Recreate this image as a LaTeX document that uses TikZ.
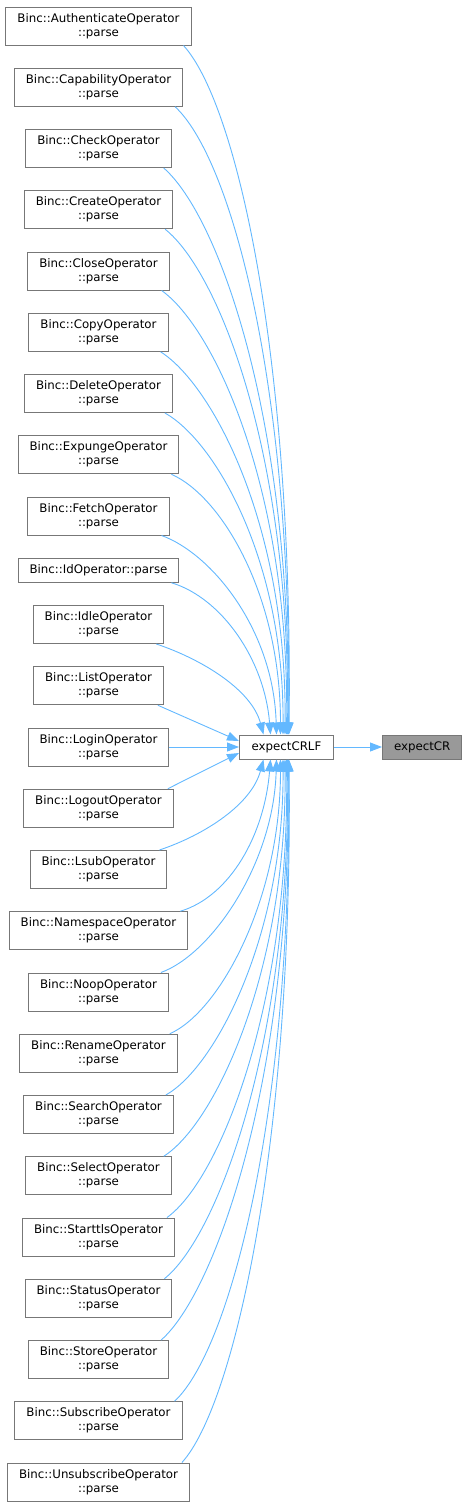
\documentclass[tikz,border=0pt]{standalone}
\usepackage{fontspec}
\setmainfont{DejaVu Sans}
\usetikzlibrary{arrows.meta, positioning, calc}
\definecolor{edgeblue}{HTML}{63B8FF}
\definecolor{boxgray}{HTML}{777777}
\definecolor{hlgray}{HTML}{999999}

\begin{document}
\begin{tikzpicture}[x=1pt, y=-1pt,
        fn/.style={rectangle, draw=boxgray, line width=1pt, fill=white,
                   align=center, inner xsep=11.5pt, inner ysep=6pt,
                   text height=23pt, text depth=3pt,
                   font=\fontsize{11.8}{14}\selectfont},
        fn1/.style={fn, text height=9pt},
        hl/.style={fn1, fill=hlgray},
        edge/.style={-{Triangle[length=12pt,width=9pt]}, edgeblue, line width=0.9pt},
        node distance=22.25pt]
      \useasboundingbox (0,0) rectangle (465,1507);
      % callers, one column
      \node[fn] (auth) at (98.5,26) {Binc::AuthenticateOperator\\::parse};
      \node[fn, below=of auth] (capab) {Binc::CapabilityOperator\\::parse};
      \node[fn, below=of capab] (check) {Binc::CheckOperator\\::parse};
      \node[fn, below=of check] (create) {Binc::CreateOperator\\::parse};
      \node[fn, below=of create] (close) {Binc::CloseOperator\\::parse};
      \node[fn, below=of close] (copy) {Binc::CopyOperator\\::parse};
      \node[fn, below=of copy] (delete) {Binc::DeleteOperator\\::parse};
      \node[fn, below=of delete] (expunge) {Binc::ExpungeOperator\\::parse};
      \node[fn, below=of expunge] (fetch) {Binc::FetchOperator\\::parse};
      \node[fn1, below=of fetch] (idop) {Binc::IdOperator::parse};
      \node[fn, below=of idop] (idle) {Binc::IdleOperator\\::parse};
      \node[fn, below=of idle] (list) {Binc::ListOperator\\::parse};
      \node[fn, below=of list] (login) {Binc::LoginOperator\\::parse};
      \node[fn, below=of login] (logout) {Binc::LogoutOperator\\::parse};
      \node[fn, below=of logout] (lsub) {Binc::LsubOperator\\::parse};
      \node[fn, below=of lsub] (namespace) {Binc::NamespaceOperator\\::parse};
      \node[fn, below=of namespace] (noop) {Binc::NoopOperator\\::parse};
      \node[fn, below=of noop] (rename) {Binc::RenameOperator\\::parse};
      \node[fn, below=of rename] (search) {Binc::SearchOperator\\::parse};
      \node[fn, below=of search] (select) {Binc::SelectOperator\\::parse};
      \node[fn, below=of select] (starttls) {Binc::StarttlsOperator\\::parse};
      \node[fn, below=of starttls] (status) {Binc::StatusOperator\\::parse};
      \node[fn, below=of status] (store) {Binc::StoreOperator\\::parse};
      \node[fn, below=of store] (subscribe) {Binc::SubscribeOperator\\::parse};
      \node[fn, below=of subscribe] (unsubscribe) {Binc::UnsubscribeOperator\\::parse};
      % callee chain
      \node[fn1, minimum width=94pt] (crlf) at ([xshift=188pt]login.center) {expectCRLF};
      \node[hl, minimum width=78pt, right=48pt of crlf] (cr) {expectCR};
      % edges from the upper callers
      \foreach \n/\dx/\a/\b/\c/\h in {auth/2.5/52/57/4/385, capab/2/56/52/4/350,
          check/1.5/55/48/4/315, create/1/54/43/3/280, close/0/53/38/3/245,
          copy/-1.5/52/33/2/210, delete/-3.5/50/28/1/175, expunge/-6/50/22/0/140,
          fetch/-10/50/18/-3/105, idop/-16/50/15/-6/75, idle/-23/45/15/-12/45}{
        \draw[edge] ([xshift=-8pt]\n.south east) .. controls +(\a,\b)
          and ($([xshift=\dx pt]crlf.north)+(\c,-\h)$) .. ([xshift=\dx pt]crlf.north);
      }
      % edges from the lower callers
      \foreach \n/\dx/\a/\b/\c/\h in {unsubscribe/2.5/52/57/4/385, subscribe/2/56/52/4/350,
          store/1.5/55/48/4/315, status/1/54/43/3/280, starttls/0/53/38/3/245,
          select/-1.5/52/33/2/210, search/-3.5/50/28/1/175, rename/-6/50/22/0/140,
          noop/-10/50/18/-3/105, namespace/-16/50/15/-6/75, lsub/-23/45/15/-12/45}{
        \draw[edge] ([xshift=-8pt]\n.north east) .. controls +(\a,-\b)
          and ($([xshift=\dx pt]crlf.south)+(\c,\h)$) .. ([xshift=\dx pt]crlf.south);
      }
      \draw[edge] ([xshift=-6pt]list.south east) -- ([yshift=6pt]crlf.west);
      \draw[edge] (login) -- (crlf);
      \draw[edge] ([xshift=-6pt]logout.north east) -- ([yshift=-6pt]crlf.west);
      \draw[edge] (crlf) -- (cr);
    \end{tikzpicture}
\end{document}
